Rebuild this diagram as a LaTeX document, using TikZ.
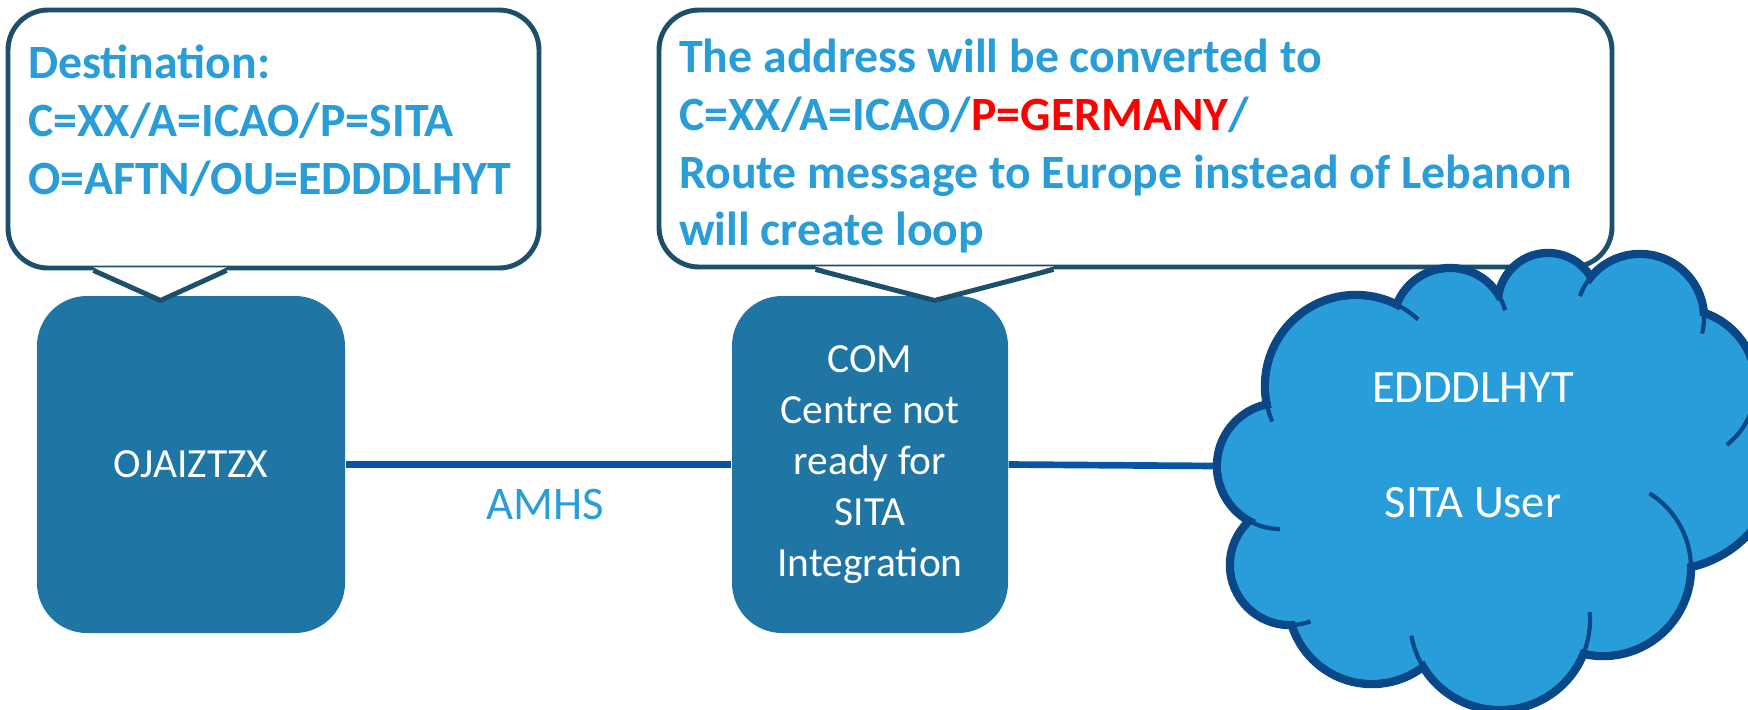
\documentclass[tikz,border=0pt]{standalone}
\usepackage{fontspec}
\setmainfont{Carlito}
\usepackage{xcolor}
\usepackage{tikz}
\usetikzlibrary{
  calc,
  positioning
}
\definecolor{noteblue}{RGB}{41,157,216}
\definecolor{noteedge}{RGB}{27,79,107}
\definecolor{boxteal}{RGB}{31,118,164}
\definecolor{linkblue}{RGB}{7,84,160}
\definecolor{cloudblue}{RGB}{41,157,217}
\definecolor{cloudedge}{RGB}{10,71,135}
\definecolor{alertred}{RGB}{255,0,0}

\begin{document}
\begin{tikzpicture}[
  notebox/.style={draw=noteedge, line width=1.4pt, fill=white, rounded corners=0.4cm, inner sep=0pt},
  notetext/.style={anchor=north west, inner sep=0pt, align=left, text=noteblue,
        font=\fontsize{13.6}{16.4}\selectfont\bfseries},
  pointer/.style={draw=noteedge, line width=1.4pt, line join=miter},
  nodebox/.style={fill=boxteal, rounded corners=0.5cm, minimum height=3.37cm, inner sep=0pt,
        text=white, align=center, font=\fontsize{11.8}{14.5}\selectfont},
  link/.style={draw=linkblue, line width=1.9pt},
  linklabel/.style={text=noteblue, font=\fontsize{13.3}{16}\selectfont},
  puff/.style={draw=cloudedge, fill=cloudblue, line width=2.4pt},
  puffline/.style={draw=cloudedge, line width=1.2pt}
]
  \useasboundingbox (0,0) rectangle (17.48,-7.09);
  \clip (0,0) rectangle (17.48,-7.09);
  % Stations
  \node[nodebox, minimum width=3.08cm] (ojai) at (1.91,-4.645) {OJAIZTZX};
  \node[nodebox, minimum width=2.76cm] (comctr) at (8.70,-4.645)
        {COM\\Centre not\\ready for\\SITA\\Integration};
  \coordinate (cloudwest) at (12.17,-4.66);
  % Links
  \draw[link] (ojai.east) -- (comctr.west);
  \node[linklabel] (amhs) at ($(ojai.east)!0.5!(comctr.west)+(0.07,-0.40)$) {AMHS};
  \draw[link] (comctr.east) -- (cloudwest);
  % Destination callout
  \node[notebox, minimum width=5.31cm, minimum height=2.58cm] (destnote) at (2.735,-1.39) {};
  \coordinate (desttip) at ($(destnote.south west)+(1.55,-0.30)$);
  \fill[white] ($(destnote.south west)+(0.88,0.03)$) -- (desttip)
        -- ($(destnote.south west)+(2.21,0.03)$) -- cycle;
  \draw[pointer] ($(destnote.south west)+(0.88,0)$) -- (desttip)
        -- ($(destnote.south west)+(2.21,0)$);
  \node[notetext] (desttext) at ($(destnote.north west)+(0.22,-0.37)$)
        {Destination:\\C=XX/A=ICAO/P=SITA\\O=AFTN/OU=EDDDLHYT};
  % Conversion callout
  \node[notebox, minimum width=9.53cm, minimum height=2.57cm] (convnote) at (11.355,-1.385) {};
  \coordinate (convtip) at ($(convnote.south west)+(2.78,-0.31)$);
  \fill[white] ($(convnote.south west)+(1.59,0.03)$) -- (convtip)
        -- ($(convnote.south west)+(3.97,0.03)$) -- cycle;
  \draw[pointer] ($(convnote.south west)+(1.59,0)$) -- (convtip)
        -- ($(convnote.south west)+(3.97,0)$);
  \node[notetext] (convtext) at ($(convnote.north west)+(0.22,-0.31)$)
        {The address will be converted to\\
         C=XX/A=ICAO/\textcolor{alertred}{P=GERMANY}/\\
         Route message to Europe instead of Lebanon\\
         will create loop};
  % SITA cloud (puffs, then inner fill, then inner arcs)
  \foreach \cx/\cy/\r in {12.80/-4.66/0.63, 13.56/-3.86/0.91, 14.50/-3.25/0.57,
        15.48/-3.03/0.50, 16.40/-3.18/0.64, 16.80/-3.85/0.76, 16.65/-4.55/1.15,
        16.03/-5.68/0.88, 15.00/-6.20/0.90, 13.72/-6.00/0.84, 12.90/-5.65/0.60}
    \draw[puff] (\cx,\cy) circle[radius=\r];
  \foreach \cx/\cy/\r in {12.80/-4.66/0.63, 13.56/-3.86/0.91, 14.50/-3.25/0.57,
        15.48/-3.03/0.50, 16.40/-3.18/0.64, 16.80/-3.85/0.76, 16.65/-4.55/1.15,
        16.03/-5.68/0.88, 15.00/-6.20/0.90, 13.72/-6.00/0.84, 12.90/-5.65/0.60}
    \fill[cloudblue] (\cx,\cy) circle[radius=\r-0.042];
  \fill[cloudblue] (14.80,-4.70) ellipse[x radius=1.9, y radius=1.7];
  \foreach \cx/\cy/\r/\a/\b in {13.56/-3.86/0.91/190/203, 13.56/-3.86/0.91/64/47,
        14.50/-3.25/0.57/32/15, 16.40/-3.18/0.64/140/160, 16.40/-3.18/0.64/5/-14,
        16.80/-3.85/0.76/-20/-52, 16.03/-5.68/0.88/-2/58, 15.00/-6.20/0.90/-22/5,
        15.00/-6.20/0.90/212/190, 12.90/-5.65/0.60/-88/-70, 12.80/-4.66/0.63/238/270}
    \draw[puffline] (\cx,\cy) ++(\a:\r) arc[start angle=\a, end angle=\b, radius=\r];
  \node[text=white, align=center, font=\fontsize{13.2}{32.7}\selectfont]
        (sitauser) at (14.73,-4.45) {EDDDLHYT\\SITA User};
\end{tikzpicture}
\end{document}
